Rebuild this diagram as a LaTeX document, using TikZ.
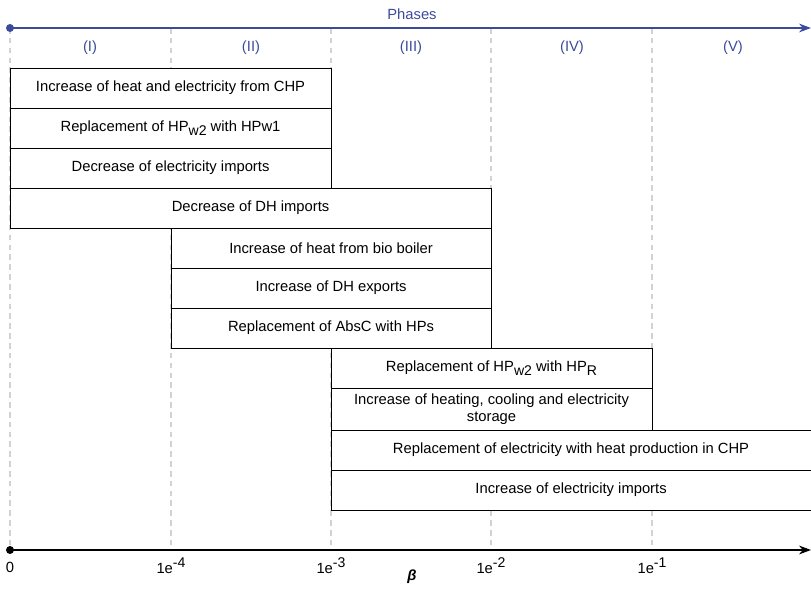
\documentclass[tikz,border=0pt]{standalone}
\usepackage{fontspec}
\setmainfont{Liberation Sans}
\usetikzlibrary{arrows.meta,positioning}

\definecolor{phaseblue}{HTML}{3B4A9C}
\definecolor{gridgrey}{HTML}{D2D2D2}
% lowered / raised small text for the labels
\newcommand{\lowtxt}[1]{\raisebox{-0.45ex}{\fontsize{10}{11}\selectfont #1}}
\newcommand{\expo}[1]{\raisebox{0.75ex}{\fontsize{10}{11}\selectfont #1}}

\begin{document}
\begin{tikzpicture}[x=0.025cm, y=-0.025cm, node distance=0pt,
    every node/.style={font=\fontsize{10.5}{12}\selectfont},
    measure/.style={draw, fill=white, line width=0.7pt, inner sep=0pt, outer sep=0pt,
        minimum height=1cm, align=center, anchor=north west},
    grid/.style={gridgrey, line width=0.9pt, dash pattern=on 4pt off 3pt}]
    \useasboundingbox (0,0) rectangle (811,589);

    % phase borders
    \foreach \x in {10,171,331,491,652}
        \draw[grid] (\x,28) -- (\x,550);

    % phase axis
    \node[text=phaseblue] (phases) at (412,14) {Phases};
    \node[circle, fill=phaseblue, inner sep=0pt, minimum size=0.2cm] (pdot) at (10,28) {};
    \coordinate (pend) at (811,28);
    \draw[phaseblue, line width=0.8pt, -{Stealth[length=0.3cm, width=0.22cm]}] (pdot.center) -- (pend);
    \foreach \x/\p in {90/I,251/II,411/III,572/IV,733/V}
        \node[text=phaseblue] (ph\p) at (\x,48) {(\p)};

    % measures per phase
    \node[measure, minimum width=8.025cm] (chp) at (10,68) {Increase of heat and electricity from CHP};
    \node[measure, minimum width=8.025cm, below=of chp.south west, anchor=north west] (hpw) {Replacement of HP\lowtxt{w2} with HPw1};
    \node[measure, minimum width=8.025cm, below=of hpw.south west, anchor=north west] (elimp) {Decrease of electricity imports};
    \node[measure, minimum width=12.025cm, below=of elimp.south west, anchor=north west] (dhimp) {Decrease of DH imports};
    \node[measure, minimum width=8cm] (bio) at (171,228) {Increase of heat from bio boiler};
    \node[measure, minimum width=8cm, below=of bio.south west, anchor=north west] (dhexp) {Increase of DH exports};
    \node[measure, minimum width=8cm, below=of dhexp.south west, anchor=north west] (absc) {Replacement of AbsC with HPs};
    \node[measure, minimum width=8.025cm] (hpr) at (331,348) {Replacement of HP\lowtxt{w2} with HP\lowtxt{R}};
    \node[measure, minimum width=8.025cm, minimum height=1.05cm, below=of hpr.south west, anchor=north west] (store) {Increase of heating, cooling and electricity\\storage};
    \node[measure, minimum width=12.2cm, below=of store.south west, anchor=north west] (chpmix) {\hspace*{-0.2cm}Replacement of electricity with heat production in CHP};
    \node[measure, minimum width=12.2cm, below=of chpmix.south west, anchor=north west] (elinc) {\hspace*{-0.2cm}Increase of electricity imports};

    % beta axis
    \node[circle, fill=black, inner sep=0pt, minimum size=0.2cm] (bdot) at (10,550) {};
    \coordinate (bend) at (811,550);
    \draw[line width=0.8pt, -{Stealth[length=0.3cm, width=0.22cm]}] (bdot.center) -- (bend);
    \node (t0) at (10,567) {0};
    \foreach \x/\e/\n in {171/-4/a,331/-3/b,491/-2/c,652/-1/d}
        \node (t\n) at (\x,566) {1e\expo{\e}};
    \node (beta) at (412,577) {\textbf{\textit{β}}};
\end{tikzpicture}
\end{document}
